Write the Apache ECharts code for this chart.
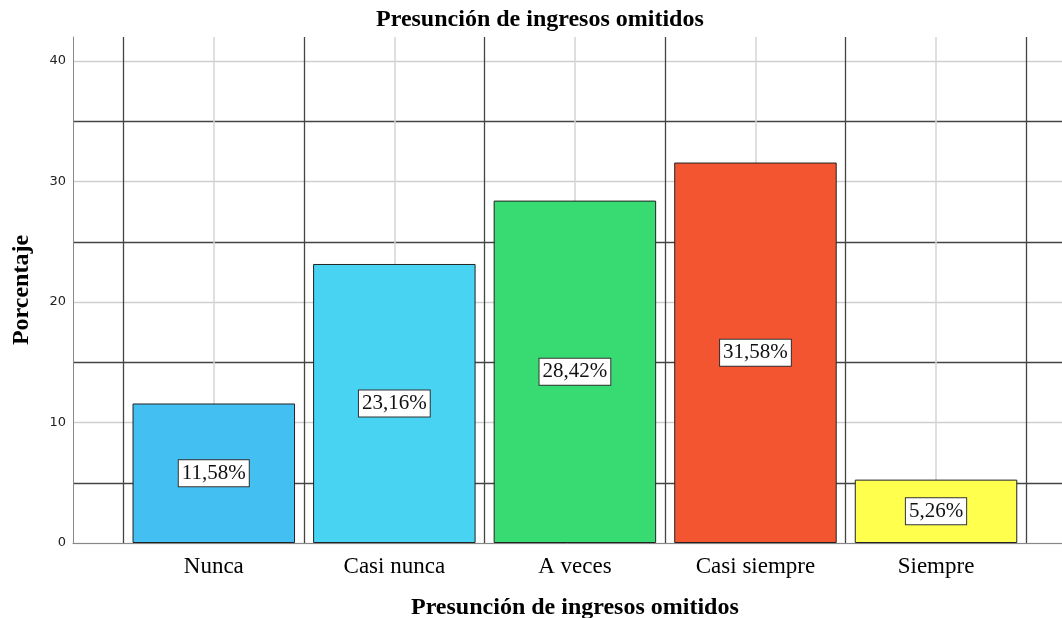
<!DOCTYPE html>
<html>
<head>
<meta charset="utf-8">
<script src="https://cdn.jsdelivr.net/npm/echarts@6/dist/echarts.min.js"></script>
<style>
html,body{margin:0;padding:0;background:#fff;}
#chart{width:1062px;height:618px;}
</style>
</head>
<body>
<div id="chart"></div>
<script>
const categories = ['Nunca', 'Casi nunca', 'A veces', 'Casi siempre', 'Siempre'];
const percentages = [11.58, 23.16, 28.42, 31.58, 5.26];
const barColors = ['#44BFF1', '#48D3F2', '#38DB72', '#F25530', '#FFFF4D'];
const yTickLabels = [0, 10, 20, 30, 40];
const titleText = 'Presunción de ingresos omitidos';
const xAxisTitle = 'Presunción de ingresos omitidos';
const yAxisTitle = 'Porcentaje';

const serif = '"Liberation Serif", "Times New Roman", serif';
const chart = echarts.init(document.getElementById('chart'));
const nCat = categories.length;
chart.setOption({
  animation: false,
  title: {
    text: titleText, left: 371, top: 3,
    textStyle: {fontFamily: serif, fontWeight: 'bold', fontSize: 24, color: '#000'}
  },
  grid: [
    {left: 73, right: 0, top: 37, bottom: 75, outerBoundsMode: 'none', containLabel: false},
    {left: 123.5, right: 35.7, top: 37, bottom: 75, outerBoundsMode: 'none', containLabel: false}
  ],
  xAxis: [
    {gridIndex: 0, type: 'value', min: 0, max: 1, show: true,
     axisLine: {show: true, onZero: false, lineStyle: {color: '#888', width: 1}},
     axisTick: {show: false}, axisLabel: {show: false}, splitLine: {show: false}},
    {gridIndex: 1, type: 'category', data: categories, boundaryGap: true,
     axisLine: {show: false}, axisTick: {show: false},
     axisLabel: {margin: 12, fontFamily: serif, fontSize: 23, color: '#000'},
     splitLine: {show: true, lineStyle: {color: '#444', width: 1.3}},
     name: xAxisTitle, nameLocation: 'middle', nameGap: 53,
     nameTextStyle: {fontFamily: serif, fontWeight: 'bold', fontSize: 24, color: '#000'}},
    {gridIndex: 1, type: 'value', min: 0, max: nCat * 2, interval: 1, show: true,
     axisLine: {show: false}, axisTick: {show: false}, axisLabel: {show: false},
     splitLine: {show: true, lineStyle: {color: ['rgba(0,0,0,0)', '#d4d4d4'], width: 1.5}}}
  ],
  yAxis: [
    {gridIndex: 0, type: 'value', min: 0, max: 42, interval: 5,
     axisLine: {show: true, lineStyle: {color: '#888', width: 1}},
     axisTick: {show: false},
     axisLabel: {margin: 7, padding: [5, 0, 0, 0], fontFamily: '"DejaVu Sans", sans-serif', fontSize: 13, color: '#222',
       formatter: v => (yTickLabels.indexOf(v) >= 0 ? String(v) : '')},
     splitLine: {show: true, showMaxLine: false, lineStyle: {color: ['#cfcfcf', '#444'], width: 1.3}},
     name: yAxisTitle, nameLocation: 'middle', nameGap: 39, nameRotate: 90,
     nameTextStyle: {fontFamily: serif, fontWeight: 'bold', fontSize: 24, color: '#000'}},
    {gridIndex: 1, type: 'value', min: 0, max: 42, show: false}
  ],
  series: [
    {type: 'bar', xAxisIndex: 1, yAxisIndex: 1, z: 2, barWidth: '90%',
     data: percentages.map((v, i) => ({value: v, itemStyle: {color: barColors[i]}})),
     itemStyle: {borderColor: '#222', borderWidth: 1},
     label: {show: true, position: 'inside',
       formatter: p => p.value.toFixed(2).replace('.', ',') + '%',
       fontFamily: serif, fontSize: 21, color: '#111',
       backgroundColor: '#fff', borderColor: '#333', borderWidth: 1, padding: [3, 3, 2, 3]}}
  ]
});
</script>
</body>
</html>
